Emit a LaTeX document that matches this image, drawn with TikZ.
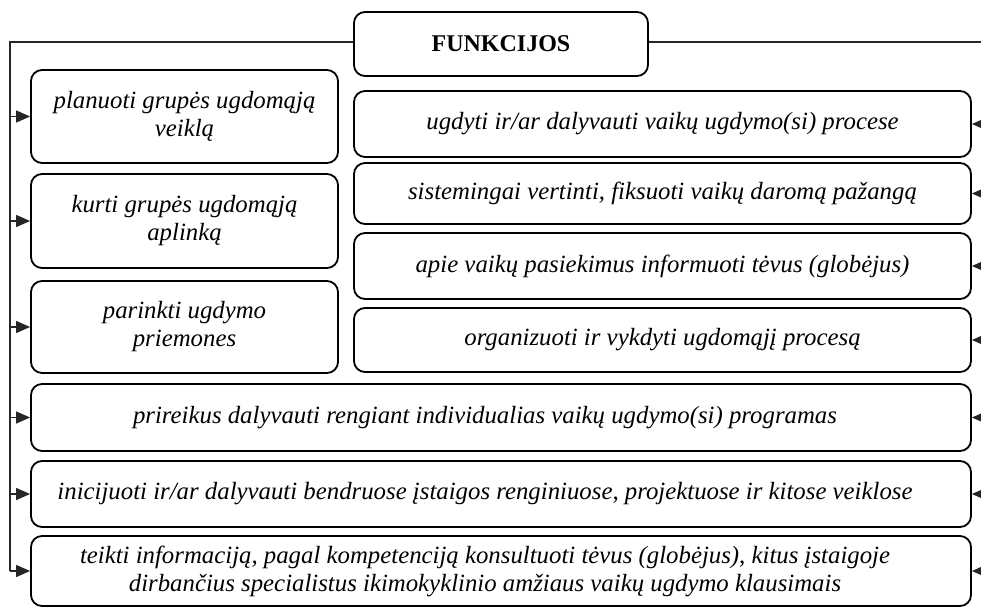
\documentclass[tikz,border=0pt]{standalone}
\usepackage{fontspec}
\setmainfont{Liberation Serif}
\usetikzlibrary{arrows.meta}
\newcommand{\padr}{\hspace*{32pt}}
\begin{document}
\begin{tikzpicture}[x=1pt,y=-1pt,
  box/.style={draw=black,line width=1.8pt,rounded corners=11pt,rectangle,inner sep=0pt,align=center,
    font=\fontsize{24.8}{28}\selectfont\itshape},
  conn/.style={draw=black!85,line width=1.1pt},
  arr/.style={conn,-{Triangle[length=14pt,width=12pt]}}]
\useasboundingbox (0,0) rectangle (981,610);
\clip (0,0) rectangle (981,610);
\coordinate (L) at (10,42);
\coordinate (R) at (992,42);
% title
\node[box,font=\fontsize{24}{27.6}\selectfont\bfseries,minimum width=294pt,minimum height=64pt] (F) at (501,44) {FUNKCIJOS};
% left boxes
\node[box,minimum width=307pt,minimum height=93pt] (L1) at (184.5,116.5) {planuoti grupės ugdomąją\\veiklą};
\node[box,minimum width=307pt,minimum height=94pt] (L2) at (184.5,221) {kurti grupės ugdomąją\\aplinką};
\node[box,minimum width=307pt,minimum height=92pt] (L3) at (184.5,327) {parinkti ugdymo\\priemones};
% right boxes
\node[box,minimum width=617pt,minimum height=66pt] (R1) at (662.5,124) {ugdyti ir/ar dalyvauti vaikų ugdymo(si) procese};
\node[box,minimum width=617pt,minimum height=61pt] (R2) at (662.5,193.5) {sistemingai vertinti, fiksuoti vaikų daromą pažangą};
\node[box,minimum width=617pt,minimum height=66pt] (R3) at (662.5,266) {apie vaikų pasiekimus informuoti tėvus (globėjus)};
\node[box,minimum width=617pt,minimum height=64pt] (R4) at (662.5,340) {organizuoti ir vykdyti ugdomąjį procesą};
% wide boxes
\node[box,minimum width=940pt,minimum height=67pt] (W5) at (501,417.5) {prireikus dalyvauti rengiant individualias vaikų ugdymo(si) programas\padr};
\node[box,minimum width=940pt,minimum height=66pt] (W6) at (501,494) {inicijuoti ir/ar dalyvauti bendruose įstaigos renginiuose, projektuose ir kitose veiklose\padr};
\node[box,minimum width=940pt,minimum height=70pt] (W7) at (501,571) {teikti informaciją, pagal kompetenciją konsultuoti tėvus (globėjus), kitus įstaigoje\padr\\dirbančius specialistus ikimokyklinio amžiaus vaikų ugdymo klausimais\padr};
% left bus
\draw[conn] (F.west |- L) -- (L) -- (W7.west -| L);
\foreach \n in {L1,L2,L3,W5,W6,W7}{
  \draw[arr] (\n.west -| L) -- (\n.west);
}
% right bus
\draw[conn] (F.east |- R) -- (R) -- (W7.east -| R);
\foreach \n in {R1,R2,R3,R4,W5,W6,W7}{
  \draw[arr] (\n.east -| R) -- (\n.east);
}
\end{tikzpicture}
\end{document}
